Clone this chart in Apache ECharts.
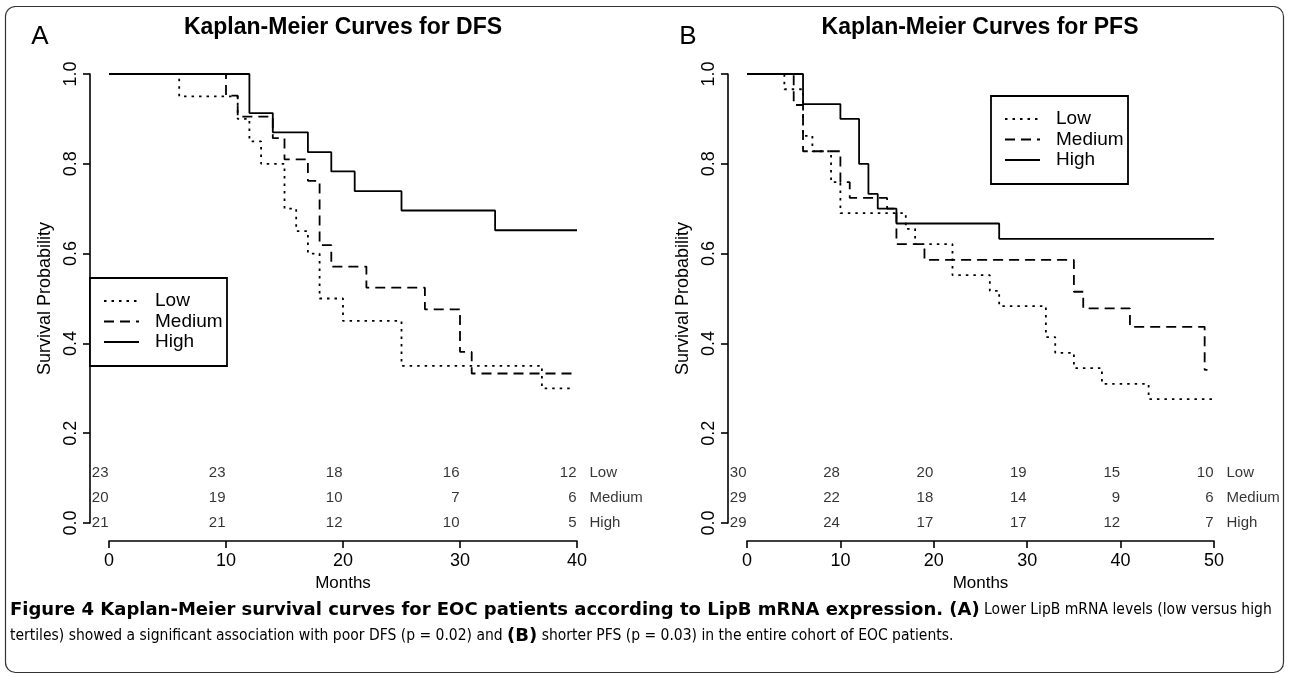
<!DOCTYPE html>
<html>
<head>
<meta charset="utf-8">
<script src="https://cdn.jsdelivr.net/npm/echarts@6/dist/echarts.min.js"></script>
<style>
html, body { margin: 0; padding: 0; background: #fff; }
#chart { width: 1290px; height: 679px; }
</style>
</head>
<body>
<div id="chart"></div>
<script>
// panel A: DFS, months / survival probability
var dfsLowT  = [0, 6, 11, 12, 13, 15, 16, 17, 18, 20, 25, 37, 39.5];
var dfsLowS  = [1, 0.95, 0.90, 0.85, 0.80, 0.70, 0.65, 0.60, 0.50, 0.45, 0.35, 0.30, 0.30];
var dfsMedT  = [0, 10, 11, 14, 15, 17, 18, 19, 22, 27, 30, 31, 40];
var dfsMedS  = [1, 0.952, 0.905, 0.857, 0.810, 0.762, 0.619, 0.571, 0.524, 0.476, 0.381, 0.333, 0.333];
var dfsHighT = [0, 12, 14, 17, 19, 21, 25, 33, 40];
var dfsHighS = [1, 0.913, 0.870, 0.826, 0.783, 0.739, 0.696, 0.652, 0.652];

// panel B: PFS
var pfsLowT  = [0, 4, 6, 7, 9, 10, 17, 18, 22, 26, 27, 32, 33, 35, 38, 43, 50];
var pfsLowS  = [1, 0.966, 0.862, 0.828, 0.759, 0.690, 0.655, 0.621, 0.552, 0.517, 0.483, 0.414, 0.379, 0.345, 0.310, 0.276, 0.276];
var pfsMedT  = [0, 5, 6, 10, 11, 15, 16, 19, 35, 36, 41, 49, 49.3];
var pfsMedS  = [1, 0.931, 0.828, 0.759, 0.724, 0.700, 0.621, 0.586, 0.515, 0.478, 0.437, 0.341, 0.341];
var pfsHighT = [0, 6, 10, 12, 13, 14, 16, 27, 50];
var pfsHighS = [1, 0.933, 0.900, 0.800, 0.733, 0.700, 0.667, 0.633, 0.633];

// numbers at risk
var groups = ['Low', 'Medium', 'High'];
var riskTimesA = [0, 10, 20, 30, 40];
var riskLowA  = [23, 23, 18, 16, 12];
var riskMedA  = [20, 19, 10, 7, 6];
var riskHighA = [21, 21, 12, 10, 5];
var riskTimesB = [0, 10, 20, 30, 40, 50];
var riskLowB  = [30, 28, 20, 19, 15, 10];
var riskMedB  = [29, 22, 18, 14, 9, 6];
var riskHighB = [29, 24, 17, 17, 12, 7];

var FONT = "'Liberation Sans', Arial, sans-serif";
var CAPFONT = "'DejaVu Sans Condensed', 'Liberation Sans Narrow', sans-serif";
var CAPBOLD = "'DejaVu Sans', sans-serif";
var DOT = [2.5, 5];
var DASH = [10, 6];
var dashes = [DOT, DASH, 'solid'];
var riskRowY = [0.111, 0.056, 0];

var chart = echarts.init(document.getElementById('chart'));

function zip(t, s) {
  var out = [];
  for (var i = 0; i < t.length; i++) out.push([t[i], s[i]]);
  return out;
}

function kmLine(t, s, dash, idx) {
  return {
    type: 'line',
    xAxisIndex: idx,
    yAxisIndex: idx,
    step: 'end',
    data: zip(t, s),
    symbol: 'none',
    clip: false,
    silent: true,
    lineStyle: { color: '#000', width: 1.8, type: dash }
  };
}

function riskSeries(times, rows, idx) {
  var pts = [];
  for (var r = 0; r < rows.length; r++) {
    for (var i = 0; i < times.length; i++) {
      pts.push([times[i], riskRowY[r], rows[r][i]]);
    }
  }
  var names = [];
  for (var r = 0; r < groups.length; r++) {
    names.push([times[times.length - 1], riskRowY[r], groups[r]]);
  }
  return [{
    type: 'scatter',
    xAxisIndex: idx, yAxisIndex: idx,
    data: pts,
    symbolSize: 1,
    clip: false,
    silent: true,
    itemStyle: { color: 'rgba(0,0,0,0)' },
    label: {
      show: true, position: 'left', distance: 0,
      formatter: function (p) { return p.value[2]; },
      color: '#000', fontSize: 15, fontFamily: FONT
    }
  }, {
    type: 'scatter',
    xAxisIndex: idx, yAxisIndex: idx,
    data: names,
    symbolSize: 1,
    clip: false,
    silent: true,
    itemStyle: { color: 'rgba(0,0,0,0)' },
    label: {
      show: true, position: 'right', distance: 12,
      formatter: function (p) { return p.value[2]; },
      color: '#000', fontSize: 15, fontFamily: FONT
    }
  }];
}

function xAx(idx, max) {
  return {
    gridIndex: idx, type: 'value', min: 0, max: max, interval: 10,
    offset: 18,
    name: 'Months', nameLocation: 'middle', nameGap: 21,
    nameTextStyle: { color: '#000', fontSize: 17, fontFamily: FONT },
    axisLine: { onZero: false, lineStyle: { color: '#000', width: 1.6 } },
    axisTick: { length: 7, lineStyle: { color: '#000', width: 1.6 } },
    axisLabel: { color: '#000', fontSize: 18, fontFamily: FONT, margin: 11 },
    splitLine: { show: false }
  };
}

function yAx(idx) {
  return {
    gridIndex: idx, type: 'value', min: 0, max: 1, interval: 0.2,
    offset: 19,
    name: 'Survival Probability', nameLocation: 'middle', nameGap: 36,
    nameTextStyle: { color: '#000', fontSize: 18, fontFamily: FONT },
    axisLine: { show: true, onZero: false, lineStyle: { color: '#000', width: 1.6 } },
    axisTick: { show: true, length: 7, lineStyle: { color: '#000', width: 1.6 } },
    axisLabel: {
      color: '#000', fontSize: 18, fontFamily: FONT, rotate: 90, margin: 10,
      formatter: function (v) { return v.toFixed(1); }
    },
    splitLine: { show: false }
  };
}

function legendBox(x, y) {
  var items = [{
    type: 'rect', z: 100,
    shape: { x: x, y: y, width: 137, height: 88 },
    style: { fill: '#fff', stroke: '#000', lineWidth: 1.8 }
  }];
  for (var i = 0; i < groups.length; i++) {
    var cy = y + 23 + i * 20.5;
    items.push({
      type: 'line', z: 101,
      shape: { x1: x + 14, y1: cy, x2: x + 49, y2: cy },
      style: { stroke: '#000', lineWidth: 1.8, lineDash: dashes[i] === 'solid' ? null : dashes[i] }
    });
    items.push({
      type: 'text', z: 101,
      style: {
        x: x + 65, y: cy, text: groups[i], fill: '#000',
        font: '19px ' + FONT, textAlign: 'left', textVerticalAlign: 'middle'
      }
    });
  }
  return items;
}

function txt(x, y, s, font, align) {
  return {
    type: 'text', z: 100,
    style: { x: x, y: y, text: s, fill: '#000', font: font, textAlign: align || 'center', textVerticalAlign: 'middle' }
  };
}

var capRich = {
  b: { fontFamily: CAPBOLD, fontSize: 18, fontWeight: 'bold', color: '#111' },
  n: { fontFamily: CAPFONT, fontSize: 15.5, color: '#222' }
};

var series = [
  kmLine(dfsLowT, dfsLowS, DOT, 0),
  kmLine(dfsMedT, dfsMedS, DASH, 0),
  kmLine(dfsHighT, dfsHighS, 'solid', 0),
  kmLine(pfsLowT, pfsLowS, DOT, 1),
  kmLine(pfsMedT, pfsMedS, DASH, 1),
  kmLine(pfsHighT, pfsHighS, 'solid', 1)
].concat(riskSeries(riskTimesA, [riskLowA, riskMedA, riskHighA], 0))
 .concat(riskSeries(riskTimesB, [riskLowB, riskMedB, riskHighB], 1));

var graphics = [{
  type: 'rect', z: 0,
  shape: { x: 5.5, y: 6.5, width: 1278, height: 666, r: 10 },
  style: { fill: 'none', stroke: '#333', lineWidth: 1.2 }
},
  txt(40, 37, 'A', '26px ' + FONT),
  txt(688, 37, 'B', '26px ' + FONT),
  txt(343, 28, 'Kaplan-Meier Curves for DFS', 'bold 23px ' + FONT),
  txt(980, 28, 'Kaplan-Meier Curves for PFS', 'bold 23px ' + FONT),
  {
    type: 'text', z: 100,
    style: {
      x: 10, y: 610,
      text: '{b|Figure 4 Kaplan-Meier survival curves for EOC patients according to LipB mRNA expression. (A)}{n| Lower LipB mRNA levels (low versus high}',
      textVerticalAlign: 'middle',
      rich: capRich
    }
  },
  {
    type: 'text', z: 100,
    style: {
      x: 10, y: 636,
      text: '{n|tertiles) showed a significant association with poor DFS (p = 0.02) and }{b|(B)}{n| shorter PFS (p = 0.03) in the entire cohort of EOC patients.}',
      textVerticalAlign: 'middle',
      rich: capRich
    }
  }
].concat(legendBox(90, 278)).concat(legendBox(991, 96));

chart.setOption({
  backgroundColor: '#fff',
  animation: false,
  grid: [
    { left: 109, top: 74, width: 468, height: 449 },
    { left: 747, top: 74, width: 467, height: 449 }
  ],
  xAxis: [xAx(0, 40), xAx(1, 50)],
  yAxis: [yAx(0), yAx(1)],
  series: series,
  graphic: graphics
});
</script>
</body>
</html>
